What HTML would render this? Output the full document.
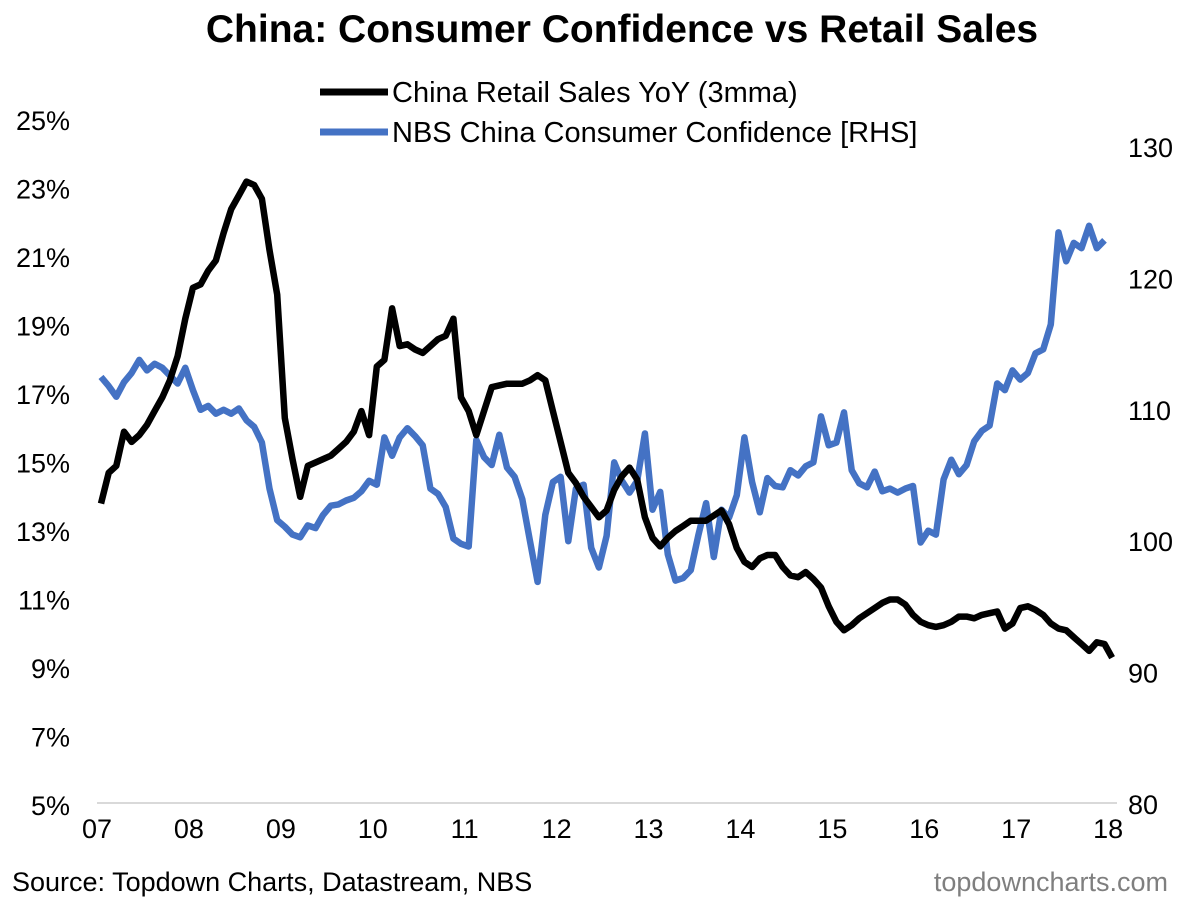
<!DOCTYPE html>
<html><head><meta charset="utf-8"><style>
body{margin:0;background:#fff;}
svg{display:block;font-family:"Liberation Sans",Arial,sans-serif;}
</style></head><body>
<svg id="chart" width="1200" height="907">
<text x="622" y="42" text-anchor="middle" font-size="39" font-weight="bold" fill="#000">China: Consumer Confidence vs Retail Sales</text>
<g>
<line x1="320" y1="92" x2="388" y2="92" stroke="#000" stroke-width="7"/>
<text x="392" y="102" font-size="29">China Retail Sales YoY (3mma)</text>
<line x1="320" y1="132" x2="388" y2="132" stroke="#4472C4" stroke-width="7"/>
<text x="392" y="142" font-size="29">NBS China Consumer Confidence [RHS]</text>
</g>
<line x1="97" y1="803" x2="1117" y2="803" stroke="#d9d9d9" stroke-width="2"/>
<g id="axes"></g>
<g id="series"></g>
<text x="12" y="891" font-size="27" fill="#000">Source: Topdown Charts, Datastream, NBS</text>
<text x="1168" y="891" font-size="27" fill="#7f7f7f" text-anchor="end">topdowncharts.com</text>
</svg>
<script>
const retail=[13.8,14.7,14.9,15.9,15.6,15.8,16.1,16.5,16.9,17.4,18.1,19.2,
20.1,20.2,20.6,20.9,21.7,22.4,22.8,23.2,23.1,22.7,21.2,19.9,
16.3,15.1,14.0,14.9,15.0,15.1,15.2,15.4,15.6,15.9,16.5,15.8,
17.8,18.0,19.5,18.4,18.45,18.3,18.2,18.4,18.6,18.7,19.2,16.9,
16.5,15.8,16.5,17.2,17.25,17.3,17.3,17.3,17.4,17.55,17.4,16.5,
15.6,14.7,14.4,14.0,13.7,13.4,13.6,14.2,14.6,14.85,14.5,13.4,
12.8,12.55,12.8,13.0,13.15,13.3,13.3,13.3,13.45,13.6,13.2,12.5,
12.1,11.95,12.2,12.3,12.3,11.95,11.7,11.65,11.8,11.6,11.35,10.8,
10.35,10.1,10.25,10.45,10.6,10.75,10.9,11.0,11.0,10.85,10.55,10.35,
10.25,10.2,10.25,10.35,10.5,10.5,10.45,10.55,10.6,10.65,10.15,10.3,
10.75,10.8,10.7,10.55,10.3,10.15,10.1,9.9,9.7,9.5,9.75,9.7,9.3];
const confidence=[112.5,111.8,111.0,112.1,112.8,113.8,113.0,113.5,113.2,112.6,112.0,113.2,
111.5,110.0,110.3,109.7,110.0,109.7,110.1,109.2,108.7,107.5,104.0,101.6,
101.1,100.5,100.3,101.2,101.0,102.0,102.7,102.8,103.1,103.3,103.8,104.6,
104.3,107.9,106.5,107.9,108.6,108.0,107.3,104.0,103.6,102.6,100.2,99.8,
99.6,107.7,106.4,105.8,108.1,105.6,104.9,103.2,100.0,96.9,102.0,104.5,
104.9,100.0,104.0,104.3,99.5,98.0,100.4,106.0,104.6,103.7,104.6,108.2,
102.4,103.75,99.0,97.0,97.2,97.8,100.5,102.9,98.8,102.4,101.8,103.5,
107.9,104.5,102.2,104.8,104.2,104.1,105.4,105.0,105.7,106.0,109.5,107.3,
107.5,109.8,105.4,104.4,104.1,105.3,103.8,104.0,103.7,104.0,104.2,99.9,
100.8,100.5,104.7,106.2,105.1,105.8,107.6,108.4,108.8,112.0,111.5,113.0,
112.3,112.8,114.3,114.6,116.5,123.5,121.3,122.7,122.3,124.0,122.3,122.9];
const leftTicks=["5%","7%","9%","11%","13%","15%","17%","19%","21%","23%","25%"];
const leftVals=[5,7,9,11,13,15,17,19,21,23,25];
const rightVals=[80,90,100,110,120,130];
const yearLabels=["07","08","09","10","11","12","13","14","15","16","17","18"];

const NS="http://www.w3.org/2000/svg";
const x0=101,step=7.66;
const xM=m=>x0+m*step;
const yL=v=>805-(v-5)*34.25;
const yR=v=>804-(v-80)*13.14;
const axes=document.getElementById('axes'),series=document.getElementById('series');
function txt(x,y,s,anchor){const t=document.createElementNS(NS,'text');t.setAttribute('x',x);t.setAttribute('y',y);t.setAttribute('font-size','27');t.setAttribute('text-anchor',anchor);t.textContent=s;return t;}
leftVals.forEach((v,i)=>{const t=txt(70,yL(v)+10,leftTicks[i],'end');


axes.appendChild(t);});
rightVals.forEach(v=>{const t=txt(1128,yR(v)+10,String(v),'start');


axes.appendChild(t);});
yearLabels.forEach((s,i)=>{const t=txt(xM(i*12)-4,838,s,'middle');


axes.appendChild(t);});
function line(arr,yf,color,name){const p=document.createElementNS(NS,'polyline');
p.setAttribute('points',arr.map((v,i)=>xM(i).toFixed(1)+','+yf(v).toFixed(1)).join(' '));
p.setAttribute('fill','none');p.setAttribute('stroke',color);p.setAttribute('stroke-width','6.5');p.setAttribute('stroke-linejoin','round');


series.appendChild(p);}
line(confidence,yR,'#4472C4','confidence-line');
line(retail,yL,'#000','retail-sales-line');
</script>
</body></html>
